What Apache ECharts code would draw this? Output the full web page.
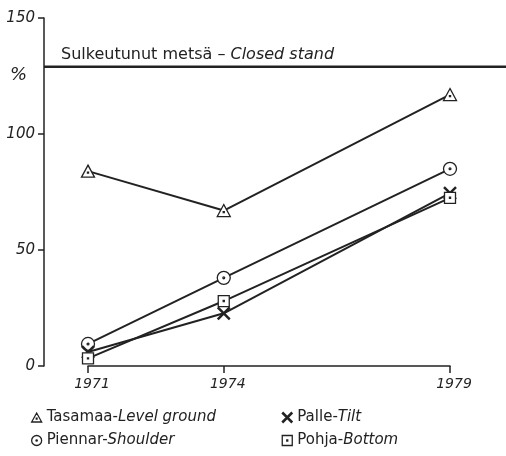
<!DOCTYPE html>
<html><head><meta charset="utf-8">
<script src="https://cdn.jsdelivr.net/npm/echarts@6/dist/echarts.min.js"></script>
<style>html,body{margin:0;padding:0;background:#fff}#c{width:506px;height:456px}</style>
</head><body><div id="c"></div>
<script>
const years = [1971, 1974, 1979];
const xTicks = [1971, 1974, 1979];
const yTicks = [0, 50, 100, 150];
const tasamaa = [84, 67, 117];
const piennar = [9.5, 38, 85];
const palle = [6, 22.7, 74.5];
const pohja = [3.3, 28, 72.5];
const closedStand = 129;
const names = ['Tasamaa-Level ground', 'Piennar-Shoulder', 'Palle-Tilt', 'Pohja-Bottom'];
const closedLabel = ['Sulkeutunut metsä – ', 'Closed stand'];

const INK = '#222';
const FONT = 'DejaVu Sans';
const SYM = {
  tri: 'path://M10,0L20,18H0ZM9.2,10.5H10.8V12.1H9.2Z',
  circ: 'path://M10,0A10,10 0 1,1 9.99,0ZM10,8.6A1.4,1.4 0 1,1 9.99,8.6Z',
  cross: 'path://M0,0L20,20M20,0L0,20',
  sq: 'path://M0,0H20V20H0ZM9,9H11V11H9Z'
};
function pts(arr){ return years.map((y,i)=>[y, arr[i]]); }
function mk(name, arr, sym, size, bw){
  return {
    name, type:'line', xAxisIndex:0, yAxisIndex:0, data:pts(arr),
    symbol:sym, symbolSize:size, showAllSymbol:true,
    lineStyle:{color:INK, width:2},
    itemStyle:{color:'#fff', borderColor:INK, borderWidth:bw},
    emphasis:{disabled:true}, animation:false, z:3
  };
}
const legendText = {
  fontFamily:FONT, fontSize:15, color:INK,
  rich:{ n:{fontFamily:FONT, fontSize:15, color:INK}, i:{fontFamily:FONT, fontSize:15, fontStyle:'italic', color:INK} }
};
function legendFmt(name){ const k=name.indexOf('-'); return '{n|'+name.slice(0,k+1)+'}{i|'+name.slice(k+1)+'}'; }

const chart = echarts.init(document.getElementById('c'), null, {renderer:'canvas'});
chart.setOption({
  backgroundColor:'#fff',
  animation:false,
  grid:[
    {left:88, right:56, top:18, bottom:90},
    {left:44, right:0, top:18, bottom:90}
  ],
  xAxis:[
    {type:'value', gridIndex:0, min:1971, max:1979,
     axisLine:{show:true, lineStyle:{color:INK, width:1.5}},
     axisTick:{show:true, customValues:xTicks, length:7, lineStyle:{color:INK, width:1.5}},
     axisLabel:{customValues:xTicks, formatter:v=>String(v), fontFamily:FONT, fontSize:14, fontStyle:'italic', color:INK, margin:11, padding:[0,0,0,8]},
     splitLine:{show:false}},
    {type:'value', gridIndex:1, min:0, max:1, show:false}
  ],
  yAxis:[
    {type:'value', gridIndex:0, min:0, max:150, interval:50, offset:44,
     axisLine:{show:true, lineStyle:{color:INK, width:1.5}},
     axisTick:{show:true, length:6, lineStyle:{color:INK, width:1.5}},
     axisLabel:{fontFamily:FONT, fontSize:15, fontStyle:'italic', color:INK, margin:9},
     splitLine:{show:false}},
    {type:'value', gridIndex:1, min:0, max:150, show:false}
  ],
  legend:[
    {left:26, top:405, orient:'vertical', itemGap:8, itemWidth:10, itemHeight:10,
     data:[{name:names[0], icon:SYM.tri}, {name:names[1], icon:SYM.circ}],
     itemStyle:{color:'#fff', borderColor:INK, borderWidth:1.3},
     textStyle:legendText, formatter:legendFmt, selectedMode:false},
    {left:276, top:405, orient:'vertical', itemGap:8, itemWidth:10, itemHeight:10,
     data:[{name:names[2], icon:SYM.cross, itemStyle:{borderWidth:2.5}}, {name:names[3], icon:SYM.sq}],
     itemStyle:{color:'#fff', borderColor:INK, borderWidth:1.3},
     textStyle:legendText, formatter:legendFmt, selectedMode:false}
  ],
  graphic:[
    {type:'text', left:10, top:66, style:{text:'%', fontFamily:FONT, fontSize:18, fontStyle:'italic', fill:INK}}
  ],
  series:[
    {type:'line', xAxisIndex:1, yAxisIndex:1, data:[[0, closedStand],[1, closedStand]],
     symbol:'none', lineStyle:{color:INK, width:2.5}, silent:true, z:1,
     markPoint:{symbol:'circle', symbolSize:0, silent:true,
       data:[{coord:[0, closedStand],
         label:{show:true, position:'right', offset:[12,-12],
           formatter:'{n|'+closedLabel[0]+'}{i|'+closedLabel[1]+'}',
           rich:{n:{fontFamily:FONT, fontSize:16, color:INK}, i:{fontFamily:FONT, fontSize:16, fontStyle:'italic', color:INK}}}}]}},
    mk(names[0], tasamaa, SYM.tri, [13,12], 1.3),
    mk(names[1], piennar, SYM.circ, 13, 1.3),
    mk(names[2], palle, SYM.cross, 12, 2.5),
    mk(names[3], pohja, SYM.sq, 11, 1.3)
  ]
});
</script></body></html>
